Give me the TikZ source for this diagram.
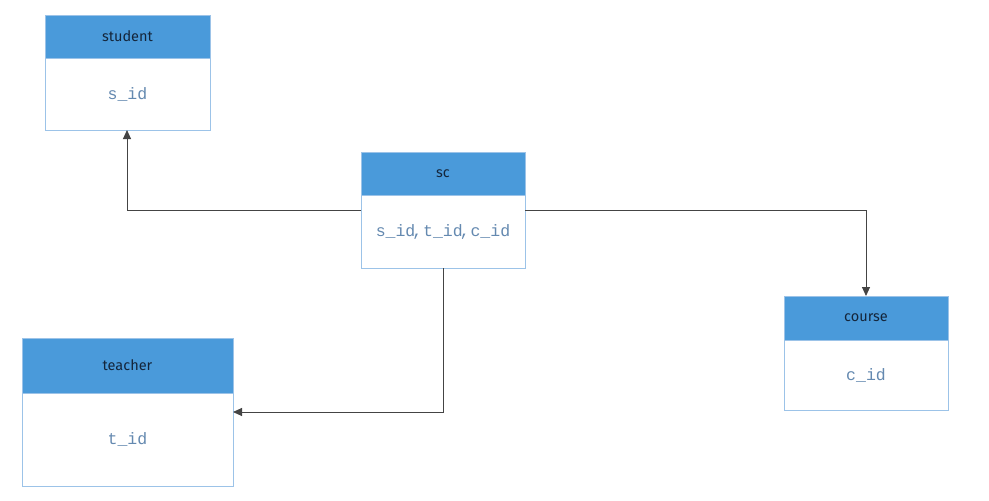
\documentclass[tikz,border=0pt]{standalone}
\usepackage{fontspec}
\setmainfont{Fira Sans}
\newfontfamily\keyfont{Liberation Mono}
\usetikzlibrary{arrows.meta}
\definecolor{hdrfill}{HTML}{4A9ADA}
\definecolor{boxline}{HTML}{9CC3E8}
\definecolor{hdrtext}{HTML}{14253A}
\definecolor{keytext}{HTML}{6489B0}
\definecolor{linkcol}{HTML}{444444}
\tikzset{
  tablebox/.style={draw=boxline, line width=1pt, fill=white},
  tablehead/.style={fill=hdrfill, draw=boxline, line width=1pt},
  headtext/.style={text=hdrtext, font=\fontsize{14.5}{16}\selectfont},
  keylabel/.style={text=keytext, font=\keyfont\fontsize{16.5}{18}\selectfont},
  link/.style={draw=linkcol, line width=0.9pt, -{Triangle[length=9pt,width=8pt]}},
}
% narrow separator between key names
\newcommand{\keysep}{\hspace{-3pt},\hspace{-9pt} }
% \erentity{name}{left}{top}{right}{header bottom}{bottom}{title}{keys}
\newcommand{\erentity}[8]{%
  \path[tablebox] (#2,#3) rectangle (#4,#6);
  \path[tablehead] (#2,#3) rectangle (#4,#5);
  \node[headtext] (#1-head) at ({(#2+#4)/2},{(#3+#5)/2}) {#7};
  \node[keylabel] (#1-keys) at ({(#2+#4)/2},{(#5+#6)/2}) {#8};
  \coordinate (#1-nw) at (#2,#3);
  \coordinate (#1-se) at (#4,#6);
}
\begin{document}
\begin{tikzpicture}[x=1pt,y=-1pt]
  \useasboundingbox (0,0) rectangle (989,501);
  \erentity{student}{45}{15}{210}{58}{130}{student}{s\_id}
  \erentity{sc}{361}{152}{525}{195}{268}{sc}{s\_id\keysep t\_id\keysep c\_id}
  \erentity{teacher}{22}{338}{233}{393}{486}{teacher}{t\_id}
  \erentity{course}{784}{296}{948}{340}{410}{course}{c\_id}

  % connector anchor points on the box edges
  \coordinate (sc-l) at (361,210);
  \coordinate (sc-r) at (525,210);
  \coordinate (sc-b) at (443,268);
  \coordinate (student-b) at (127,130);
  \coordinate (course-t) at (866,296);
  \coordinate (teacher-r) at (233,412);

  \draw[link] (sc-l) -| (student-b);
  \draw[link] (sc-r) -| (course-t);
  \draw[link] (sc-b) |- (teacher-r);
\end{tikzpicture}
\end{document}
